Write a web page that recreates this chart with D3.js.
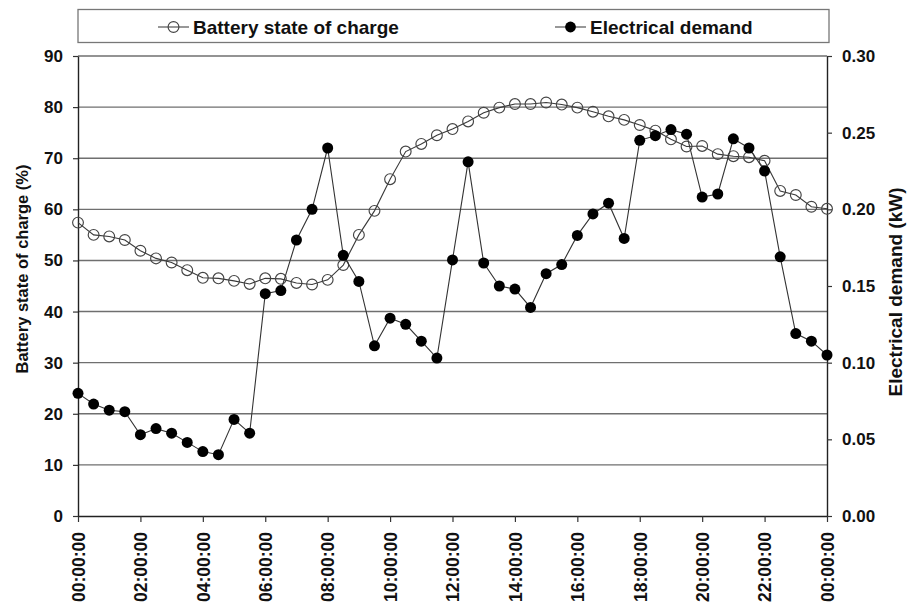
<!DOCTYPE html>
<html>
<head>
<meta charset="utf-8">
<script src="https://cdn.jsdelivr.net/npm/d3@7"></script>
<style>
  html, body { margin: 0; padding: 0; background: #fff; }
  svg text { font-family: "Liberation Sans", Arial, Helvetica, sans-serif; font-weight: bold; fill: #111; }
</style>
</head>
<body>
<svg id="chart" width="908" height="610"></svg>
<script>
// Half-hourly readings over one day (hours since midnight)
const hours = d3.range(0, 24.5, 0.5);

// Battery state of charge (%) – left axis
const batterySoc = [
  57.4, 55.0, 54.7, 54.0, 51.9, 50.4, 49.6, 48.1, 46.6, 46.5,
  46.0, 45.4, 46.5, 46.4, 45.6, 45.3, 46.2, 49.1, 55.0, 59.7,
  65.9, 71.3, 72.8, 74.5, 75.7, 77.2, 78.9, 79.9, 80.6, 80.6,
  80.9, 80.5, 79.9, 79.1, 78.2, 77.5, 76.5, 75.4, 73.7, 72.3,
  72.4, 70.8, 70.4, 70.2, 69.5, 63.6, 62.8, 60.5, 60.1
];

// Electrical demand (kW) – right axis
const demand = [
  0.080, 0.073, 0.069, 0.068, 0.053, 0.057, 0.054, 0.048, 0.042, 0.040,
  0.063, 0.054, 0.145, 0.147, 0.180, 0.200, 0.240, 0.170, 0.153, 0.111,
  0.129, 0.125, 0.114, 0.103, 0.167, 0.231, 0.165, 0.150, 0.148, 0.136,
  0.158, 0.164, 0.183, 0.197, 0.204, 0.181, 0.245, 0.248, 0.252, 0.249,
  0.208, 0.210, 0.246, 0.240, 0.225, 0.169, 0.119, 0.114, 0.105
];

const xTickHours = [0, 2, 4, 6, 8, 10, 12, 14, 16, 18, 20, 22, 24];
const xTickLabels = ["00:00:00", "02:00:00", "04:00:00", "06:00:00", "08:00:00", "10:00:00",
                     "12:00:00", "14:00:00", "16:00:00", "18:00:00", "20:00:00", "22:00:00", "00:00:00"];
const leftTicks = [0, 10, 20, 30, 40, 50, 60, 70, 80, 90];
const rightTicks = [0, 0.05, 0.10, 0.15, 0.20, 0.25, 0.30];

const legendNames = ["Battery state of charge", "Electrical demand"];
const leftTitle = "Battery state of charge (%)";
const rightTitle = "Electrical demand (kW)";

const svg = d3.select("#chart");
const plot = { left: 78, right: 827, top: 56, bottom: 516 };

const x = d3.scaleLinear().domain([0, 24]).range([plot.left, plot.right]);
const yL = d3.scaleLinear().domain([0, 90]).range([plot.bottom, plot.top]);
const yR = d3.scaleLinear().domain([0, 0.30]).range([plot.bottom, plot.top]);

// Horizontal gridlines on the left-axis ticks
svg.append("g")
  .selectAll("line")
  .data(leftTicks.filter(d => d > 0))
  .join("line")
  .attr("x1", plot.left).attr("x2", plot.right)
  .attr("y1", d => yL(d)).attr("y2", d => yL(d))
  .attr("stroke", "#6f6f6f")
  .attr("stroke-width", 1.4);

// Axes
const xAxis = svg.append("g")
  .attr("transform", `translate(0,${plot.bottom})`)
  .call(d3.axisBottom(x).tickValues(xTickHours).tickSize(6).tickSizeOuter(0)
    .tickFormat((d, i) => xTickLabels[i]));
xAxis.selectAll("text")
  .attr("transform", "rotate(-90)")
  .attr("text-anchor", "end")
  .attr("x", -16).attr("y", 0).attr("dy", "0.36em")
  .style("font-size", "17.5px");

const leftAxis = svg.append("g")
  .attr("transform", `translate(${plot.left},0)`)
  .call(d3.axisLeft(yL).tickValues(leftTicks).tickSize(5).tickSizeOuter(0).tickPadding(10)
    .tickFormat(d3.format("d")));
leftAxis.selectAll("text").style("font-size", "17px");

const rightAxis = svg.append("g")
  .attr("transform", `translate(${plot.right},0)`)
  .call(d3.axisRight(yR).tickValues(rightTicks).tickSize(5).tickSizeOuter(0).tickPadding(10)
    .tickFormat(d3.format(".2f")));
rightAxis.selectAll("text").style("font-size", "17px");

[xAxis, leftAxis, rightAxis].forEach(g => {
  g.select(".domain").attr("stroke", "#222").attr("stroke-width", 1.4);
  g.selectAll(".tick line").attr("stroke", "#333").attr("stroke-width", 1.2);
});

// Axis titles
svg.append("text")
  .attr("transform", `translate(22,269) rotate(-90)`)
  .attr("text-anchor", "middle").attr("dy", "0.36em")
  .style("font-size", "16.5px")
  .text(leftTitle);

svg.append("text")
  .attr("transform", `translate(895,292) rotate(-90)`)
  .attr("text-anchor", "middle").attr("dy", "0.36em")
  .style("font-size", "19px")
  .text(rightTitle);

// Series
const socLine = d3.line().x((d, i) => x(hours[i])).y(d => yL(d));
const demLine = d3.line().x((d, i) => x(hours[i])).y(d => yR(d));

svg.append("path")
  .datum(batterySoc)
  .attr("d", socLine)
  .attr("fill", "none").attr("stroke", "#3a3a3a").attr("stroke-width", 1.1);

svg.append("g")
  .selectAll("circle")
  .data(batterySoc)
  .join("circle")
  .attr("cx", (d, i) => x(hours[i])).attr("cy", d => yL(d))
  .attr("r", 5.4)
  .attr("fill", "none").attr("stroke", "#444").attr("stroke-width", 1.15);

svg.append("path")
  .datum(demand)
  .attr("d", demLine)
  .attr("fill", "none").attr("stroke", "#333").attr("stroke-width", 1.1);

svg.append("g")
  .selectAll("circle")
  .data(demand)
  .join("circle")
  .attr("cx", (d, i) => x(hours[i])).attr("cy", d => yR(d))
  .attr("r", 5.5)
  .attr("fill", "#000");

// Legend
const legend = svg.append("g");
legend.append("rect")
  .attr("x", 78).attr("y", 9.5).attr("width", 751).attr("height", 33)
  .attr("fill", "#fff").attr("stroke", "#777").attr("stroke-width", 1.3);

const legendItems = [
  { x: 158, name: legendNames[0], open: true },
  { x: 555, name: legendNames[1], open: false }
];
legendItems.forEach(item => {
  const g = legend.append("g").attr("transform", `translate(${item.x},27)`);
  g.append("line").attr("x1", 0).attr("x2", 31).attr("y1", 0).attr("y2", 0)
    .attr("stroke", "#444").attr("stroke-width", 1.1);
  g.append("circle").attr("cx", 15.5).attr("cy", 0).attr("r", 5.4)
    .attr("fill", item.open ? "none" : "#000")
    .attr("stroke", item.open ? "#444" : "none").attr("stroke-width", 1.15);
  g.append("text").attr("x", 35).attr("y", 0).attr("dy", "0.36em")
    .style("font-size", "19px")
    .text(item.name);
});
</script>
</body>
</html>
